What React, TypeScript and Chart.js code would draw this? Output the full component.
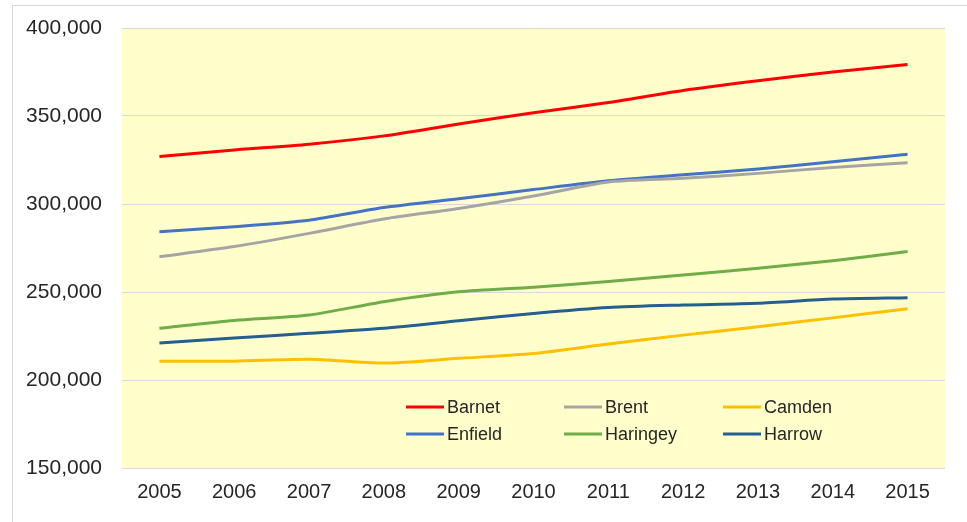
import React, { useEffect, useRef } from "react";
import { Chart, registerables } from "chart.js";

Chart.register(...registerables);

const years = ["2005", "2006", "2007", "2008", "2009", "2010", "2011", "2012", "2013", "2014", "2015"];
const seriesNames = ["Barnet", "Brent", "Camden", "Enfield", "Haringey", "Harrow"];
const seriesColors = ["#FF0000", "#A5A5A5", "#FFC000", "#4472C4", "#70AD47", "#255E91"];

const barnet = [327000, 330700, 334000, 338700, 345500, 351800, 357700, 364500, 370000, 375000, 379200];
const brent = [270000, 275800, 283300, 291500, 297500, 304500, 312500, 314600, 317400, 320800, 323500];
const camden = [210700, 210700, 211800, 209600, 212300, 215000, 220400, 225500, 230300, 235300, 240500];
const enfield = [284200, 287100, 290800, 298000, 303000, 308200, 313200, 316600, 319900, 324000, 328300];
const haringey = [229400, 233800, 236900, 244500, 250100, 252700, 256000, 259600, 263500, 267800, 273000];
const harrow = [221000, 223900, 226500, 229400, 233600, 237800, 241200, 242600, 243600, 246000, 246800];

const yMin = 150000;
const yMax = 400000;
const yStep = 50000;

const FONT = "'Liberation Sans', Arial, sans-serif";

const plotBg = {
  id: "plotBg",
  beforeDraw(chart: any) {
    const { ctx, chartArea } = chart;
    ctx.save();
    ctx.fillStyle = "#FFFFCC";
    ctx.fillRect(chartArea.left, chartArea.top, chartArea.right - chartArea.left, chartArea.bottom - chartArea.top);
    ctx.restore();
  },
};

const insideLegend = {
  id: "insideLegend",
  afterDraw(chart: any) {
    const { ctx } = chart;
    const colX = [406, 564, 723];
    const rowY = [407, 434];
    ctx.save();
    chart.data.datasets.forEach((d: any, i: number) => {
      const x0 = colX[i % 3];
      const y = rowY[Math.floor(i / 3)];
      ctx.strokeStyle = d.borderColor;
      ctx.lineWidth = 3;
      ctx.beginPath();
      ctx.moveTo(x0, y);
      ctx.lineTo(x0 + 38, y);
      ctx.stroke();
      ctx.fillStyle = "#262626";
      ctx.font = `18px ${FONT}`;
      ctx.textBaseline = "middle";
      ctx.textAlign = "left";
      ctx.fillText(d.label, x0 + 41, y + 1);
    });
    ctx.restore();
  },
};

export default function App() {
  const ref = useRef<HTMLCanvasElement>(null);
  useEffect(() => {
    if (!ref.current) return;
    const data = [barnet, brent, camden, enfield, haringey, harrow];
    const chart = new Chart(ref.current, {
      type: "line",
      data: {
        labels: years,
        datasets: seriesNames.map((name, i) => ({
          label: name,
          data: data[i],
          borderColor: seriesColors[i],
          backgroundColor: seriesColors[i],
          borderWidth: 3,
          pointRadius: 0,
          tension: 0.25,
          fill: false,
        })),
      },
      options: {
        animation: false,
        responsive: false,
        maintainAspectRatio: false,
        layout: { padding: { left: 0, top: 28, right: 22, bottom: 0 } },
        plugins: { legend: { display: false }, tooltip: { enabled: false } },
        scales: {
          x: {
            offset: true,
            grid: { display: false, drawTicks: false },
            border: { display: false },
            ticks: { color: "#262626", font: { family: FONT, size: 20 }, padding: 12, maxRotation: 0 },
            afterFit(scale: any) {
              scale.height = 54;
            },
          },
          y: {
            min: yMin,
            max: yMax,
            grid: { color: "#D9D9D9", lineWidth: 1, drawTicks: false },
            border: { display: false },
            ticks: {
              stepSize: yStep,
              color: "#262626",
              font: { family: FONT, size: 21 },
              padding: 20,
              callback: (v: any) => Number(v).toLocaleString("en-US"),
            },
            afterFit(scale: any) {
              scale.width = 122;
              scale.paddingTop = 0;
              scale.paddingBottom = 0;
            },
          },
        },
      },
      plugins: [plotBg, insideLegend],
    });
    return () => chart.destroy();
  }, []);

  return (
    <div style={{ position: "fixed", left: 0, top: 0, width: 967, height: 522, background: "#fff", overflow: "hidden" }}>
      <div
        style={{
          position: "absolute",
          left: 12,
          top: 5,
          right: -2,
          bottom: -2,
          borderTop: "1px solid #D9D9D9",
          borderLeft: "1px solid #D9D9D9",
        }}
      />
      <canvas ref={ref} width={967} height={522} style={{ position: "absolute", left: 0, top: 0, display: "block" }} />
    </div>
  );
}
